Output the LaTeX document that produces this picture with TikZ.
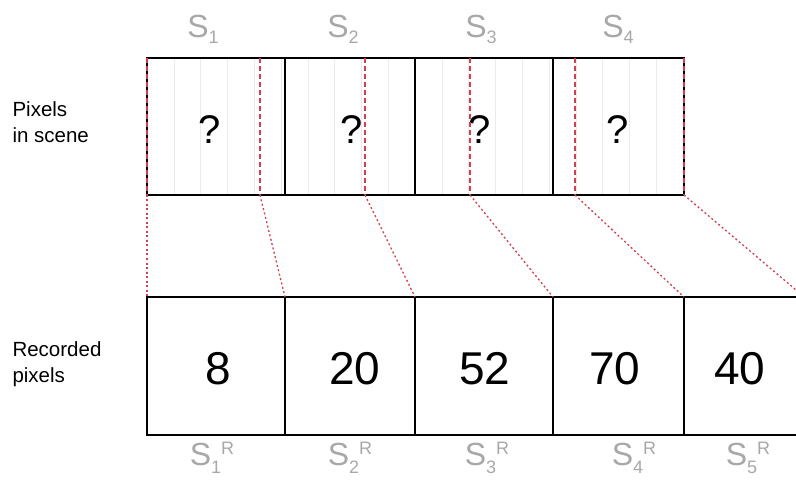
\documentclass[tikz,border=0pt]{standalone}
\usepackage{fontspec}
\setmainfont{Liberation Sans}
\definecolor{lbl}{HTML}{A8A8A8}
\definecolor{rd}{HTML}{D0404E}
\newcommand{\Ssub}[1]{S\raisebox{-6pt}{\fontsize{18}{18}\selectfont #1}}
\newcommand{\SsubR}[1]{S\raisebox{-8pt}{\fontsize{18}{18}\selectfont #1}\raisebox{11pt}{\fontsize{18}{18}\selectfont R}}
\begin{document}
\begin{tikzpicture}[x=1pt,y=-1pt,
  box/.style={draw=black, line width=1.4pt, rectangle, inner sep=0pt, outer sep=0pt, anchor=north west},
  tbox/.style={box, minimum height=137pt},
  bbox/.style={box, minimum height=138pt},
  qtext/.style={font=\fontsize{40}{40}\selectfont, inner sep=0pt},
  ntext/.style={font=\fontsize{46}{46}\selectfont, inner sep=0pt},
  side/.style={anchor=west, align=left, font=\fontsize{20.5}{26}\selectfont},
  slab/.style={text=lbl, font=\fontsize{32}{32}\selectfont, inner sep=0pt, anchor=base},
  rdash/.style={draw=rd, line width=1.3pt, dash pattern=on 5pt off 3pt},
  rdot/.style={draw=rd, line width=1.3pt, dash pattern=on 2pt off 2.5pt},
  faint/.style={draw=black!8, line width=0.5pt}]
\useasboundingbox (0,0) rectangle (796,484);
% faint grid in the scene row
\foreach \k in {1,...,19}{\draw[faint] ({147+26.8*\k},58) -- ({147+26.8*\k},195);}
% scene pixels
\node[tbox, minimum width=138pt] (t1) at (147,58) {};
\node[tbox, minimum width=130pt] (t2) at (285,58) {};
\node[tbox, minimum width=138pt] (t3) at (415,58) {};
\node[tbox, minimum width=131pt] (t4) at (553,58) {};
\node[qtext] (q1) at (210,130) {?};
\node[qtext] (q2) at (352,130) {?};
\node[qtext] (q3) at (480,130) {?};
\node[qtext] (q4) at (618,130) {?};
% recorded pixels
\node[bbox, minimum width=138pt] (b1) at (147,297) {};
\node[bbox, minimum width=130pt] (b2) at (285,297) {};
\node[bbox, minimum width=138pt] (b3) at (415,297) {};
\node[bbox, minimum width=131pt] (b4) at (553,297) {};
\node[box, draw=none, minimum width=112pt, minimum height=138pt] (b5) at (684,297) {};
\draw[line width=1.4pt] (b5.north west) -- (b5.north east);
\draw[line width=1.4pt] (b5.south west) -- (b5.south east);
\node[ntext] (n1) at (218,369) {8};
\node[ntext] (n2) at (355,369) {20};
\node[ntext] (n3) at (485,369) {52};
\node[ntext] (n4) at (615,369) {70};
\node[ntext] (n5) at (740,369) {40};
% side labels
\node[side] (ls) at (9,122) {Pixels\\in scene};
\node[side] (lr) at (9,364) {Recorded\\pixels};
% top labels
\node[slab] (s1) at (203,38) {\Ssub{1}};
\node[slab] (s2) at (343,38) {\Ssub{2}};
\node[slab] (s3) at (481,38) {\Ssub{3}};
\node[slab] (s4) at (618,38) {\Ssub{4}};
% bottom labels
\node[slab] (r1) at (212,465) {\SsubR{1}};
\node[slab] (r2) at (350,465) {\SsubR{2}};
\node[slab] (r3) at (487,465) {\SsubR{3}};
\node[slab] (r4) at (634,465) {\SsubR{4}};
\node[slab] (r5) at (748,465) {\SsubR{5}};
% red boundary lines in scene
\coordinate (a1) at (147,58);  \coordinate (c1) at (147,195);
\coordinate (a2) at (260,58);  \coordinate (c2) at (260,195);
\coordinate (a3) at (365,58);  \coordinate (c3) at (365,195);
\coordinate (a4) at (470,58);  \coordinate (c4) at (470,195);
\coordinate (a5) at (575,58);  \coordinate (c5) at (575,195);
\coordinate (a6) at (684,58);  \coordinate (c6) at (684,195);
\coordinate (e6) at (796,290);
\foreach \i in {1,...,6}{\draw[rdash] (a\i) -- (c\i);}
% projection lines
\draw[rdot] (c1) -- (b1.north west);
\draw[rdot] (c2) -- (b1.north east);
\draw[rdot] (c3) -- (b2.north east);
\draw[rdot] (c4) -- (b3.north east);
\draw[rdot] (c5) -- (b4.north east);
\draw[rdot] (c6) -- (e6);
\end{tikzpicture}
\end{document}
